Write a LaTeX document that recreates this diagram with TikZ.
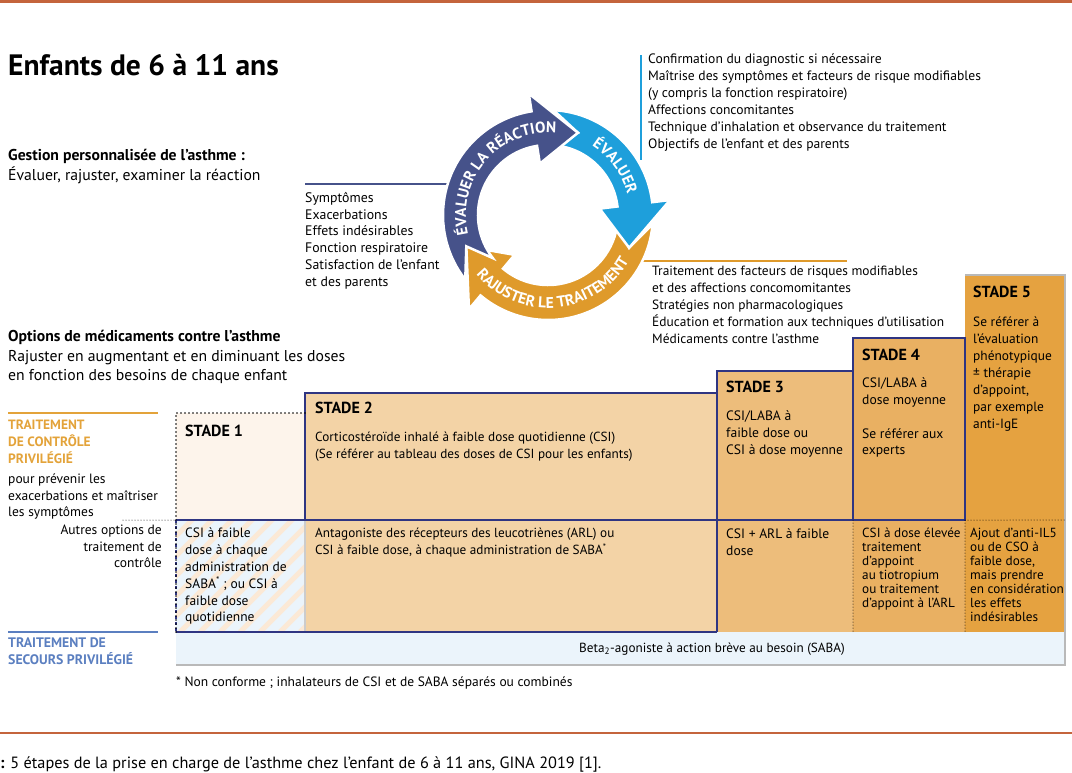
\documentclass[tikz,border=0pt]{standalone}
\usepackage{fontspec}
\setmainfont{PT Sans}
\usepackage{xcolor}
\usetikzlibrary{decorations.text}

\definecolor{rust}{HTML}{C4643C}
\definecolor{ringnavy}{HTML}{46528A}
\definecolor{ringblue}{HTML}{1E9FDB}
\definecolor{ringorange}{HTML}{DF9A2B}
\definecolor{ctrlorange}{HTML}{E3A33A}
\definecolor{relblue}{HTML}{5B7FC0}
\definecolor{stepnavy}{HTML}{2F3582}
\definecolor{fillone}{HTML}{FDF4EB}
\definecolor{filltwo}{HTML}{F3D3A6}
\definecolor{fillthree}{HTML}{EDBD7B}
\definecolor{fillfour}{HTML}{E9B062}
\definecolor{fillfive}{HTML}{E5A240}
\definecolor{sabafill}{HTML}{EBF4FB}
\definecolor{shadowgray}{HTML}{B9B9B9}
\definecolor{stripe}{HTML}{FBE9D6}

\newcommand\ringtext{\bfseries\fontsize{15.5}{15.5}\selectfont}

% one arrow of the cycle: colour, tail angle, head angle
\newcommand\ringarrow[3]{%
  \filldraw[fill=#1, draw=white, line width=2.5pt]
    ([shift={(#2:105)}]ctr) arc[start angle=#2, end angle=#3, radius=105]
    -- ([shift={(#3:123)}]ctr) -- ([shift={(#3-29:87.5)}]ctr)
    -- ([shift={(#3:52)}]ctr) -- ([shift={(#3:70)}]ctr)
    arc[start angle=#3, end angle=#2, radius=70]
    -- ([shift={(#2-17:87.5)}]ctr) -- cycle;}

\begin{document}
\begin{tikzpicture}[x=1pt, y=1pt,
    body/.style={anchor=north west, inner sep=0pt, align=left, font=\fontsize{13.6}{17}\selectfont},
    tight/.style={anchor=north west, inner sep=0pt, align=left, font=\fontsize{13.2}{14}\selectfont},
    stadelbl/.style={anchor=north west, inner sep=0pt, font=\bfseries\fontsize{16}{18}\selectfont},
    head/.style={anchor=north west, inner sep=0pt, align=left, font=\bfseries\fontsize{13.5}{17}\selectfont},
    stepline/.style={draw=stepnavy, line width=1.8pt},
    dots/.style={line width=1.7pt, dash pattern=on 0pt off 4pt, line cap=round},
    finedots/.style={line width=1pt, dash pattern=on 0pt off 3pt, line cap=round},
    ringword/.style={decorate, decoration={text along path, text color=white, text align=center}}
  ]
  \useasboundingbox (0,0) rectangle (1072,-772);
  \draw[rust, line width=3pt] (0,-1.5) -- (1072,-1.5);
  \draw[rust, line width=2.5pt] (0,-733) -- (1072,-733);

  % headings
  \node[anchor=base west, inner sep=0pt, font=\bfseries\fontsize{29.5}{32}\selectfont] (title) at (8,-75) {Enfants de 6 à 11 ans};
  \node[body, font=\fontsize{15.7}{20}\selectfont] (gest) at (8,-149) {\textbf{Gestion personnalisée de l’asthme :}\\Évaluer, rajuster, examiner la réaction};
  \node[body, font=\fontsize{15.7}{19.5}\selectfont] (opts) at (8,-330) {\textbf{Options de médicaments contre l’asthme}\\Rajuster en augmentant et en diminuant les doses\\en fonction des besoins de chaque enfant};

  % lists round the cycle
  \node[body, font=\fontsize{13.8}{16.8}\selectfont] (lstreac) at (305,-192) {Symptômes\\Exacerbations\\Effets indésirables\\Fonction respiratoire\\Satisfaction de l’enfant\\et des parents};
  \node[body] (lsteval) at (648,-54) {Confirmation du diagnostic si nécessaire\\Maîtrise des symptômes et facteurs de risque modifiables\\(y compris la fonction respiratoire)\\Affections concomitantes\\Technique d’inhalation et observance du traitement\\Objectifs de l’enfant et des parents};
  \node[body, font=\fontsize{13.4}{17}\selectfont] (lstadj) at (652,-266) {Traitement des facteurs de risques modifiables\\et des affections concomomitantes\\Stratégies non pharmacologiques\\Éducation et formation aux techniques d’utilisation\\Médicaments contre l’asthme};
  \draw[ringnavy, line width=2pt] ([yshift=8pt]lstreac.north west) -- ++(142,0);
  \draw[ringblue, line width=2pt] ([xshift=-7pt, yshift=-1pt]lsteval.north west) -- ++(0,-105);
  \draw[ringorange, line width=2pt] ([shift={(-22pt,5pt)}]lstadj.north west) -- ++(217,0);

  % cycle
  \coordinate (ctr) at (548,-215);
  \ringarrow{ringorange}{-5}{-130}
  \ringarrow{ringblue}{87}{7}
  \ringarrow{ringnavy}{218}{99}
  \path[ringword, decoration={text={|\ringtext|ÉVALUER LA RÉACTION}}] ([shift={(208:82)}]ctr) arc[start angle=208, end angle=70, radius=82];
  \path[ringword, decoration={text={|\ringtext|ÉVALUER}}] ([shift={(78:82)}]ctr) arc[start angle=78, end angle=-6, radius=82];
  \path[ringword, decoration={text={|\ringtext|RAJUSTER LE TRAITEMENT}}] ([shift={(202:93)}]ctr) arc[start angle=202, end angle=348, radius=93];

  % left labels
  \node[head, text=ctrlorange] (ctrlhead) at (8,-420) {TRAITEMENT\\DE CONTRÔLE\\PRIVILÉGIÉ};
  \node[body, font=\fontsize{13.5}{16.5}\selectfont] (ctrltxt) at (8,-474) {pour prévenir les\\exacerbations et maîtriser\\les symptômes};
  \node[anchor=north east, inner sep=0pt, align=right, font=\fontsize{13.5}{16.5}\selectfont] (althead) at (162,-525) {Autres options de\\traitement de\\contrôle};
  \node[head, text=relblue, font=\bfseries\fontsize{13.8}{17}\selectfont] (relhead) at (8,-637) {TRAITEMENT DE\\SECOURS PRIVILÉGIÉ};
  \draw[ctrlorange, line width=2pt] ([yshift=7pt]ctrlhead.north west) -- ++(150,0);
  \draw[relblue, line width=2pt] ([yshift=5pt]relhead.north west) -- ++(150,0);

  % steps
  \fill[fillfive] (965,-275) rectangle (1065,-632);
  \fill[fillfour] (853,-338) rectangle (965,-632);
  \fill[fillthree] (717,-371) rectangle (853,-632);
  \fill[filltwo] (305,-393) rectangle (717,-632);
  \fill[fillone] (176,-413) rectangle (305,-520);
  \begin{scope}
    \clip (176,-520) rectangle (305,-632);
    \fill[sabafill] (176,-520) rectangle (305,-632);
    \foreach \s in {0,...,13}
      \draw[stripe, line width=5pt] (60+\s*20,-632) -- ++(120,120);
  \end{scope}
  \fill[sabafill] (176,-632) rectangle (1065,-665);
  \draw[shadowgray, line width=2pt] (965,-275) -- (1065,-275) -- (1065,-665) -- (176,-665);

  \draw[gray!40, line width=1.5pt] (305,-520) -- (305,-632);
  \draw[stepline] (305,-520) -- (305,-393) -- (717,-393);
  \draw[stepline] (176,-520) -- (717,-520);
  \draw[stepline] (176,-632) -- (717,-632);
  \draw[stepline] (717,-632) -- (717,-371) -- (853,-371) -- (853,-520);
  \draw[stepline] (853,-520) -- (853,-338) -- (965,-338) -- (965,-520) -- (717,-520);
  \draw[stepnavy, line width=1.2pt, dashed] (176,-520) -- (176,-632);
  \draw[dots] (176,-632) -- (176,-413) -- (305,-413);
  \draw[finedots] (123,-520) -- (176,-520);
  \draw[finedots] (853,-520) -- (853,-632);
  \draw[finedots] (965,-520) -- (965,-632);
  \draw[finedots] (965,-520) -- (1065,-520);

  \node[stadelbl] (st1) at (185,-425) {STADE 1};
  \node[stadelbl] (st2) at (315,-402) {STADE 2};
  \node[stadelbl] (st3) at (726,-381) {STADE 3};
  \node[stadelbl] (st4) at (862,-349) {STADE 4};
  \node[stadelbl] (st5) at (973,-286) {STADE 5};

  \node[body, font=\fontsize{13.2}{17}\selectfont] (ctrl2) at (315,-432) {Corticostéroïde inhalé à faible dose quotidienne (CSI)\\(Se référer au tableau des doses de CSI pour les enfants)};
  \node[body] (ctrl3) at (726,-410) {CSI/LABA à\\faible dose ou\\CSI à dose moyenne};
  \node[body] (ctrl4) at (862,-377) {CSI/LABA à\\dose moyenne\\[17pt]Se référer aux\\experts};
  \node[body, font=\fontsize{13.4}{17}\selectfont] (ctrl5) at (973,-317) {Se référer à\\l’évaluation\\phénotypique\\± thérapie\\d’appoint,\\par exemple\\anti-IgE};

  \node[body, font=\fontsize{13.5}{16.8}\selectfont] (alt1) at (185,-528) {CSI à faible\\dose à chaque\\administration de\\SABA\textsuperscript{*} ; ou CSI à\\faible dose\\quotidienne};
  \node[body, font=\fontsize{13.2}{17}\selectfont] (alt2) at (315,-528) {Antagoniste des récepteurs des leucotriènes (ARL) ou\\CSI à faible dose, à chaque administration de SABA\textsuperscript{*}};
  \node[body] (alt3) at (726,-528) {CSI + ARL à faible\\dose};
  \node[tight] (alt4) at (862,-528) {CSI à dose élevée\\traitement\\d’appoint\\au tiotropium\\ou traitement\\d’appoint à l’ARL};
  \node[tight] (alt5) at (970,-528) {Ajout d’anti-IL5\\ou de CSO à\\faible dose,\\mais prendre\\en considération\\les effets\\indésirables};

  \node[inner sep=0pt, font=\fontsize{13.2}{15}\selectfont] (saba) at (712,-649) {Beta\textsubscript{2}-agoniste à action brève au besoin (SABA)};
  \node[anchor=north west, inner sep=0pt, font=\fontsize{13.5}{15}\selectfont] (fnote) at (176,-677) {* Non conforme ; inhalateurs de CSI et de SABA séparés ou combinés};
  \node[anchor=base west, inner sep=0pt, font=\fontsize{16.3}{18}\selectfont] (caption) at (0,-768) {\textbf{:} 5 étapes de la prise en charge de l’asthme chez l’enfant de 6 à 11 ans, GINA 2019 [1].};
\end{tikzpicture}
\end{document}
